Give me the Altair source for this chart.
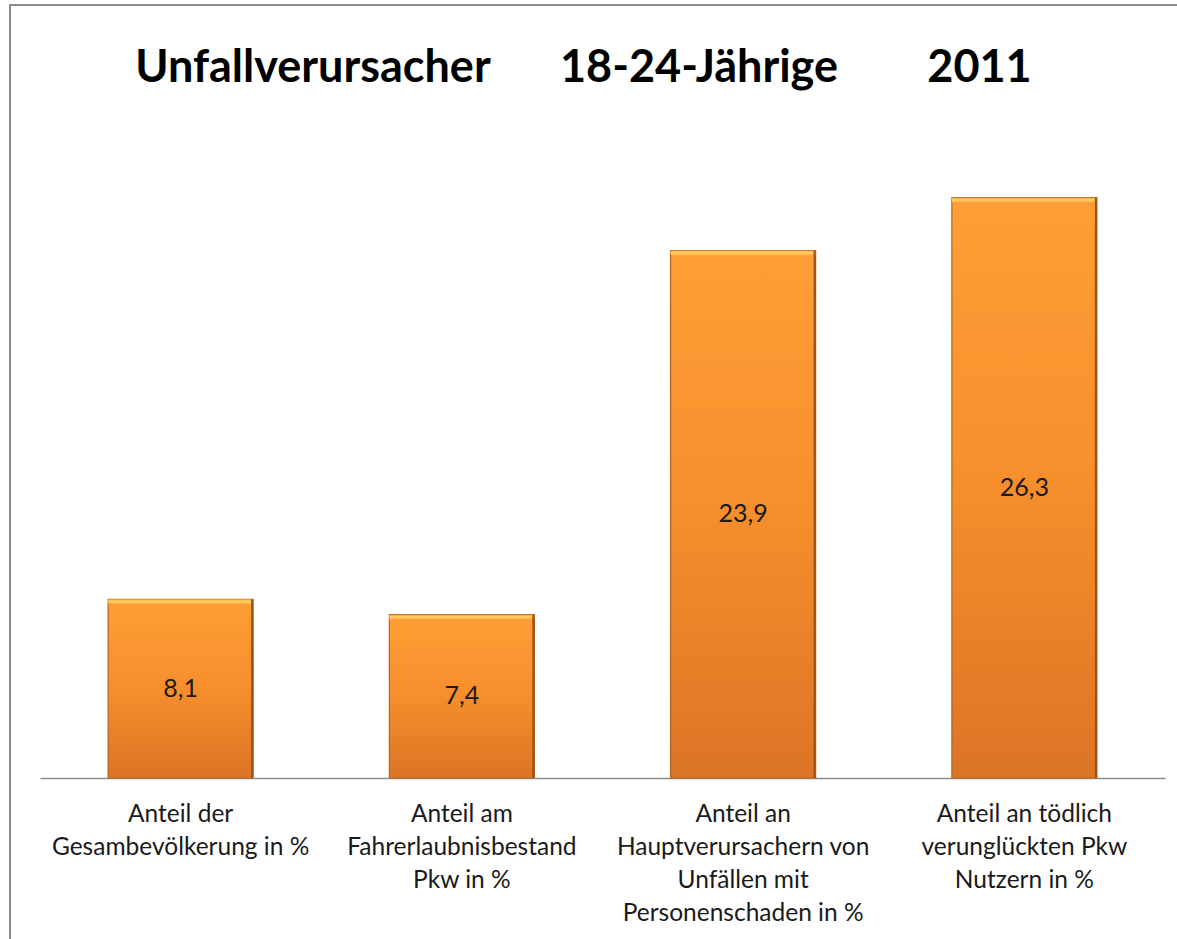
import altair as alt
import pandas as pd

categories = [
    "Anteil der\nGesambevölkerung in %",
    "Anteil am\nFahrerlaubnisbestand\nPkw in %",
    "Anteil an\nHauptverursachern von\nUnfällen mit\nPersonenschaden in %",
    "Anteil an tödlich\nverunglückten Pkw\nNutzern in %",
]
values = [8.1, 7.4, 23.9, 26.3]
value_labels = ["8,1", "7,4", "23,9", "26,3"]
title_parts = ["Unfallverursacher", "18-24-Jährige", "2011"]
title_x = [273, 659, 939.5]

df = pd.DataFrame({"cat": categories, "value": values, "label": value_labels})

W, H = 1125, 662
FONT = "Lato"

yscale = alt.Scale(domain=[0, 30], nice=False)
x = alt.X("cat:N", sort=categories,
          scale=alt.Scale(paddingInner=0.4844, paddingOuter=0.2422),
          axis=alt.Axis(title=None, labels=False, ticks=False, domain=True,
                        domainColor="#8c8c8c", domainWidth=1.5, grid=False))
y = alt.Y("value:Q", scale=yscale, axis=None)

base = alt.Chart(df)

bars = base.mark_bar(
    color=alt.Gradient(
        gradient="linear", x1=0, x2=0, y1=0, y2=1,
        stops=[alt.GradientStop(color="#FF9E36", offset=0),
               alt.GradientStop(color="#F68E2C", offset=0.5),
               alt.GradientStop(color="#DC7426", offset=1)]),
    stroke="#B8621C", strokeWidth=1.2,
).encode(x=x, y=y)

highlight = base.transform_calculate(top2="datum.value - 0.22").mark_bar(
    color=alt.Gradient(
        gradient="linear", x1=0, x2=0, y1=0, y2=1,
        stops=[alt.GradientStop(color="#F8A040", offset=0),
               alt.GradientStop(color="#FFD468", offset=0.45),
               alt.GradientStop(color="#FFA63C", offset=1)]),
).encode(x=x, y=y, y2="top2:Q")

right_edge = base.mark_bar(color="#9A5214", width=2, xOffset=71.5).encode(x=x, y=y)

val_text = base.transform_calculate(mid="datum.value / 2").mark_text(
    font=FONT, fontSize=25, color="#1a1a1a", baseline="middle"
).encode(x=x, y=alt.Y("mid:Q", scale=yscale, axis=None), text="label:N")

cat_text = base.mark_text(
    font=FONT, fontSize=24.5, color="#1a1a1a", baseline="alphabetic",
    lineBreak="\n", lineHeight=33, align="center"
).encode(x=x, y=alt.value(H + 44), text="cat:N")

title_layers = [
    alt.Chart(pd.DataFrame({"t": [t]})).mark_text(
        font=FONT, fontSize=45, fontWeight="bold", color="#000000",
        baseline="alphabetic", align="center"
    ).encode(x=alt.value(px), y=alt.value(-34), text="t:N")
    for t, px in zip(title_parts, title_x)
]

border = alt.Chart(pd.DataFrame({"a": [0]})).mark_rect(
    fill="transparent", stroke="#8c8c8c", strokeWidth=2
).encode(x=alt.value(-30), x2=alt.value(1200), y=alt.value(-111), y2=alt.value(900))

chart = alt.layer(border, bars, highlight, right_edge, val_text, cat_text, *title_layers).properties(
    width=W, height=H,
    background="white",
    autosize=alt.AutoSizeParams(type="none"),
    padding={"left": 40, "top": 116, "right": 12, "bottom": 161},
).configure_view(stroke="transparent", strokeWidth=0)

chart.save("out.html", embed_options={"renderer": "svg", "actions": False})
